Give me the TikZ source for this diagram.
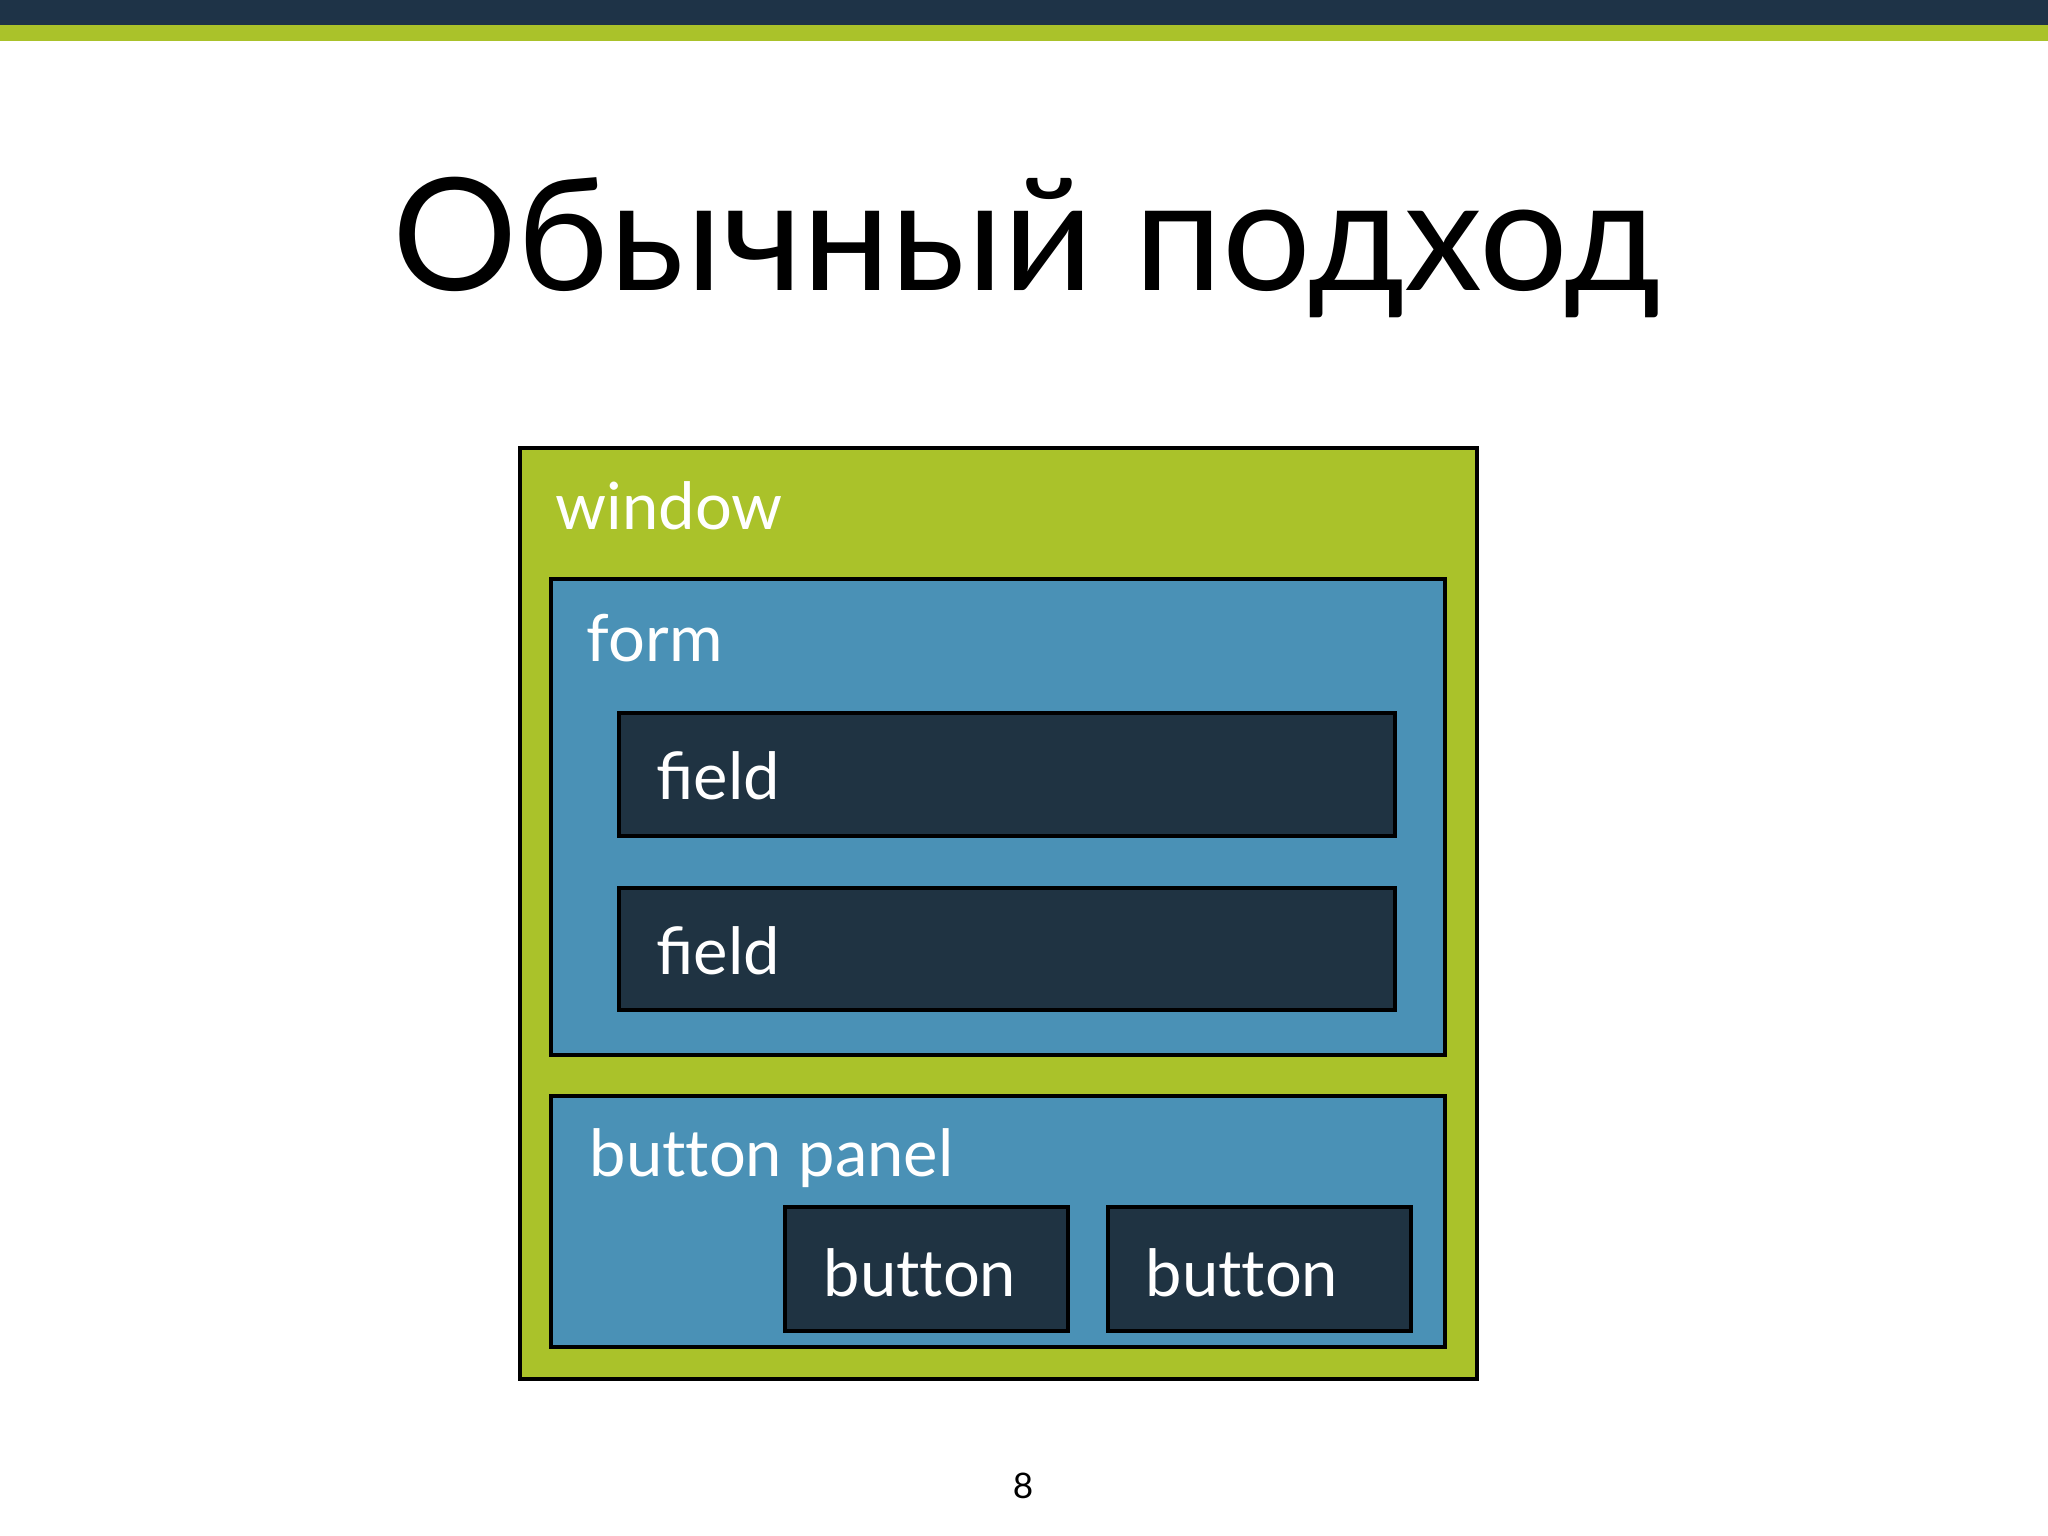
\documentclass[tikz,border=0pt]{standalone}
\usepackage{fontspec}
\setmainfont{Lato}
\usepackage{tikz}
\definecolor{slidenavy}{HTML}{1E3347}
\definecolor{slidelime}{HTML}{AAC22A}
\definecolor{formblue}{HTML}{4A91B6}
\definecolor{widgetdark}{HTML}{1F3342}
\tikzset{
  panelbox/.style={draw=black, line width=1.1pt, inner sep=0pt},
  boxlabel/.style={anchor=base west, inner sep=0pt, text=white, font=\fontsize{18.5}{22}\selectfont},
}

\begin{document}
\begin{tikzpicture}[x=0.01cm, y=-0.01cm]
            \useasboundingbox (0,0) rectangle (2048,1536);
            \fill[slidenavy] (0,0) rectangle (2048,25);
            \fill[slidelime] (0,25) rectangle (2048,41);
            \node[anchor=base, inner sep=0pt, font=\fontsize{44.5}{54}\selectfont] (title) at (1027,290) {Обычный подход};
            \node[panelbox, fill=slidelime, minimum width=9.57cm, minimum height=9.31cm] (window) at (998.5,913.5) {};
            \node[panelbox, fill=formblue, minimum width=8.94cm, minimum height=4.76cm] (form) at (998,817) {};
            \node[panelbox, fill=widgetdark, minimum width=7.76cm, minimum height=1.23cm] (field1) at (1007,774.5) {};
            \node[panelbox, fill=widgetdark, minimum width=7.76cm, minimum height=1.22cm] (field2) at (1007,949) {};
            \node[panelbox, fill=formblue, minimum width=8.94cm, minimum height=2.51cm] (panel) at (998,1221.5) {};
            \node[panelbox, fill=widgetdark, minimum width=2.83cm, minimum height=1.24cm] (button1) at (926.5,1269) {};
            \node[panelbox, fill=widgetdark, minimum width=3.03cm, minimum height=1.24cm] (button2) at (1259.5,1269) {};
            \node[boxlabel] (windowlabel) at (555,529) {window};
            \node[boxlabel] (formlabel) at (586,661) {form};
            \node[boxlabel] (field1label) at (656,799) {field};
            \node[boxlabel] (field2label) at (656,974) {field};
            \node[boxlabel] (panellabel) at (589,1176) {but\kern0pt ton panel};
            \node[boxlabel] (button1label) at (823,1296) {but\kern0pt ton};
            \node[boxlabel] (button2label) at (1145,1296) {but\kern0pt ton};
            \node[anchor=base, inner sep=0pt, font=\fontsize{10}{12}\selectfont] (pagenum) at (1023,1498) {8};
        \end{tikzpicture}
\end{document}
